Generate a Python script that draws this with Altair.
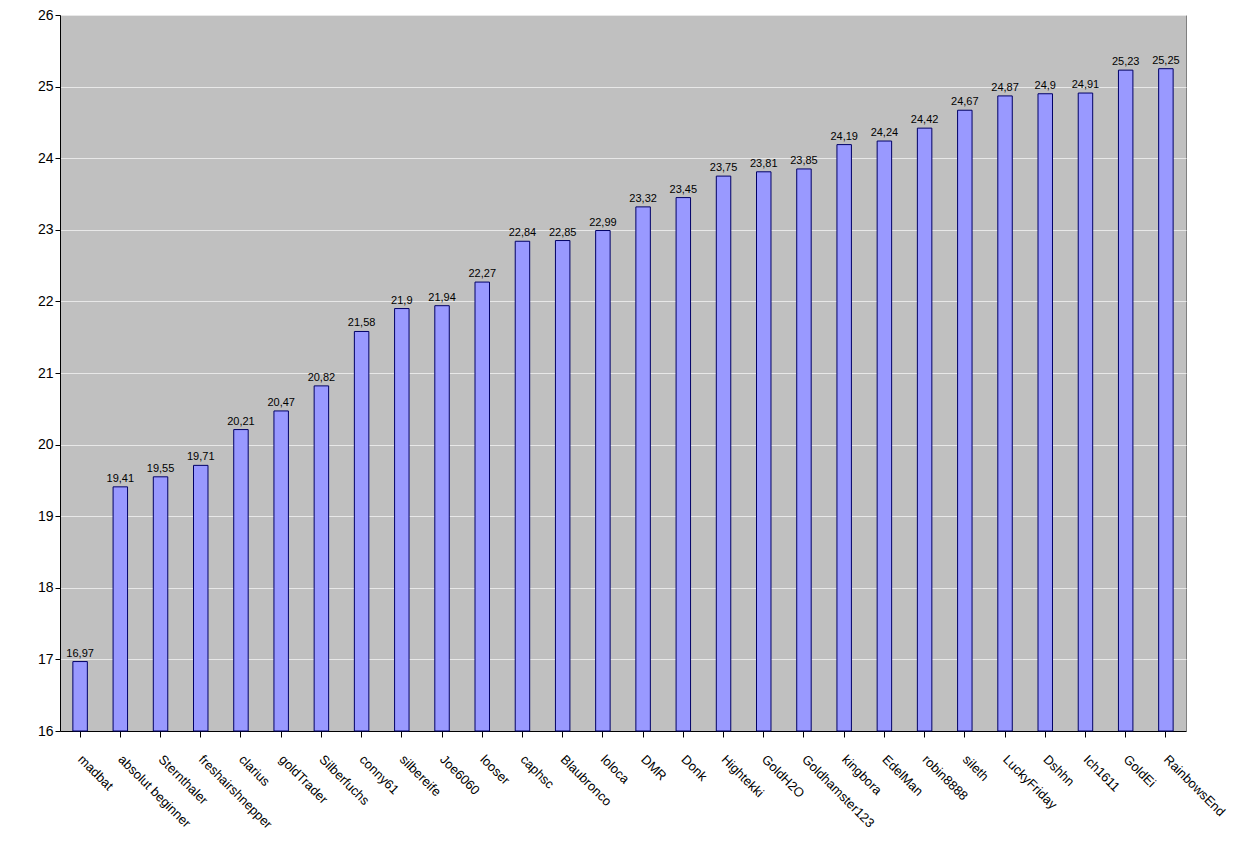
import altair as alt
import pandas as pd

names = ["madbat", "absolut beginner", "Sternthaler", "freshairshnepper", "clarius",
         "goldTrader", "Silberfuchs", "conny61", "silbereife", "Joe6060", "looser",
         "caphsc", "Blaubronco", "loloca", "DMR", "Donk", "Hightekki", "GoldH2O",
         "Goldhamster123", "kingbora", "EdelMan", "robin8888", "sileth", "LuckyFriday",
         "Dshhn", "Ich1611", "GoldEi", "RainbowsEnd"]
values = [16.97, 19.41, 19.55, 19.71, 20.21, 20.47, 20.82, 21.58, 21.9, 21.94, 22.27,
          22.84, 22.85, 22.99, 23.32, 23.45, 23.75, 23.81, 23.85, 24.19, 24.24, 24.42,
          24.67, 24.87, 24.9, 24.91, 25.23, 25.25]

df = pd.DataFrame({"name": names, "value": values})
df["label"] = [str(v).replace(".", ",") for v in values]

font = "Liberation Sans"

x = alt.X("name:N", sort=None, title=None,
          scale=alt.Scale(paddingInner=0.64, paddingOuter=0.32),
          axis=alt.Axis(labelAngle=45, labelAlign="left", labelBaseline="middle",
                        labelFontSize=13, labelColor="black", labelFont=font,
                        labelPadding=20, labelOverlap=False, labelLimit=300,
                        domainColor="black", tickColor="black",
                        tickSize=6, grid=False))

bars = alt.Chart(df).mark_bar(color="#9999ff", stroke="#000066", strokeWidth=1).encode(
    x=x,
    y=alt.Y("value:Q", title=None,
            scale=alt.Scale(domain=[16, 26], zero=False, clamp=True),
            axis=alt.Axis(values=[16 + 0.5 * i for i in range(21)],
                          labelExpr="replace(toString(datum.value), '.', ',')",
                          labelOverlap=False,
                          labelFontSize=14, labelColor="black", labelFont=font,
                          domainColor="black", tickColor="black", tickSize=5,
                          gridColor="#e8e8e8", gridWidth=1)),
)

text = alt.Chart(df).mark_text(dy=-8, fontSize=11, font=font, color="black").encode(
    x=alt.X("name:N", sort=None),
    y="value:Q",
    text="label:N",
)

chart = alt.layer(bars, text).properties(
    width=1126, height=716,
    autosize=alt.AutoSizeParams(type="none"),
    padding={"left": 52, "top": 7, "right": 60, "bottom": 130},
).configure_view(fill="#c0c0c0", stroke="#808080")

chart.save("out.html", embed_options={"renderer": "svg", "actions": False})
